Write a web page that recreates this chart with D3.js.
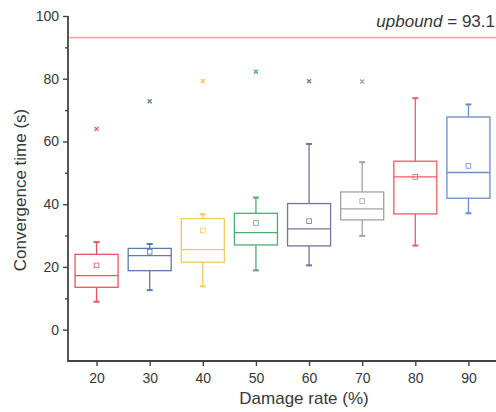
<!DOCTYPE html>
<html>
<head>
<meta charset="utf-8">
<script src="https://cdn.jsdelivr.net/npm/d3@7"></script>
<style>
  body { margin: 0; background: #fff; }
  svg { display: block; }
  text { font-family: "Liberation Sans", Arial, sans-serif; fill: #383838; }
</style>
</head>
<body>
<div class="container"></div>
<script>
// data
const categories = ['20', '30', '40', '50', '60', '70', '80', '90']
const whiskerLow = [8.9, 12.6, 13.8, 18.9, 20.5, 29.9, 26.8, 37.1]
const q1 = [13.5, 18.8, 21.5, 27.0, 26.7, 35.0, 36.9, 41.9]
const median = [17.2, 23.6, 25.5, 30.9, 32.1, 38.5, 48.7, 50.1]
const q3 = [24.0, 25.9, 35.4, 37.1, 40.2, 43.9, 53.7, 67.8]
const whiskerHigh = [27.9, 27.3, 36.8, 42.1, 59.2, 53.4, 73.8, 71.8]
const means = [20.5, 24.8, 31.6, 34.0, 34.6, 41.0, 48.7, 52.2]
const outliers = [64.0, 72.8, 79.3, 82.2, 79.2, 79.1, null, null]
const colors = ['#e9545e', '#5a7bb0', '#f3ca55', '#4cae75', '#75739f', '#a2a2a2', '#ef5a64', '#6a8ecb']
const upbound = 93.1
const yTicks = [0, 20, 40, 60, 80, 100]
const yMinor = [10, 30, 50, 70, 90]

const w = 496
const h = 412
const pad = {left: 68, right: 496, top: 16, bottom: 361}

const svg = d3.select('.container')
              .append('svg')
              .attr('width', w)
              .attr('height', h)

const xScale = d3.scalePoint()
                 .domain(categories)
                 .range([70, 495])
                 .padding(0.5)
const yScale = d3.scaleLinear()
                 .domain([-10, 100])
                 .range([pad.bottom, pad.top])

const boxW = xScale.step() * 0.81

// 上限线
svg.append('line')
   .attr('x1', pad.left + 1).attr('x2', pad.right)
   .attr('y1', yScale(upbound)).attr('y2', yScale(upbound))
   .attr('stroke', '#f5aaad')
   .attr('stroke-width', 1.6)

const ub = svg.append('text')
              .attr('x', 495)
              .attr('y', 27)
              .attr('text-anchor', 'end')
              .style('font-size', '17px')
ub.append('tspan').style('font-style', 'italic').text('upbound')
ub.append('tspan').text(' = ' + upbound)

// 箱线图
const rows = categories.map((c, i) => ({
  c: c, lo: whiskerLow[i], q1: q1[i], med: median[i], q3: q3[i],
  hi: whiskerHigh[i], mean: means[i], out: outliers[i], color: colors[i]
}))

const g = svg.append('g').selectAll('g')
             .data(rows)
             .enter()
             .append('g')
             .attr('stroke', (d) => d.color)
             .attr('fill', 'none')
             .attr('stroke-width', 1.3)

// whiskers
g.append('line')
 .attr('x1', (d) => xScale(d.c)).attr('x2', (d) => xScale(d.c))
 .attr('y1', (d) => yScale(d.hi)).attr('y2', (d) => yScale(d.q3))
g.append('line')
 .attr('x1', (d) => xScale(d.c)).attr('x2', (d) => xScale(d.c))
 .attr('y1', (d) => yScale(d.q1)).attr('y2', (d) => yScale(d.lo))
g.append('line')
 .attr('x1', (d) => xScale(d.c) - 3).attr('x2', (d) => xScale(d.c) + 3)
 .attr('y1', (d) => yScale(d.hi)).attr('y2', (d) => yScale(d.hi))
 .attr('stroke-width', 2)
g.append('line')
 .attr('x1', (d) => xScale(d.c) - 3).attr('x2', (d) => xScale(d.c) + 3)
 .attr('y1', (d) => yScale(d.lo)).attr('y2', (d) => yScale(d.lo))
 .attr('stroke-width', 2)

// box
g.append('rect')
 .attr('x', (d) => xScale(d.c) - boxW / 2)
 .attr('width', boxW)
 .attr('y', (d) => yScale(d.q3))
 .attr('height', (d) => yScale(d.q1) - yScale(d.q3))
 .attr('fill', '#fff')
g.append('line')
 .attr('x1', (d) => xScale(d.c) - boxW / 2).attr('x2', (d) => xScale(d.c) + boxW / 2)
 .attr('y1', (d) => yScale(d.med)).attr('y2', (d) => yScale(d.med))

// mean
g.append('rect')
 .attr('x', (d) => xScale(d.c) - 2.3)
 .attr('y', (d) => yScale(d.mean) - 2.3)
 .attr('width', 4.6).attr('height', 4.6)
 .attr('stroke-width', 0.8)

// outliers
g.filter((d) => d.out != null)
 .append('path')
 .attr('d', (d) => {
   const x = xScale(d.c), y = yScale(d.out)
   return 'M' + (x - 2) + ',' + (y - 2) + 'L' + (x + 2) + ',' + (y + 2) +
          'M' + (x - 2) + ',' + (y + 2) + 'L' + (x + 2) + ',' + (y - 2)
 })
 .attr('stroke-width', 1.3)

// 坐标轴
const yAxis = d3.axisLeft(yScale).tickValues(yTicks).tickSize(5).tickPadding(4)
const yAxisG = svg.append('g')
   .attr('class', 'y-axis')
   .attr('transform', 'translate(' + pad.left + ',0)')
   .call(yAxis)
yAxisG.selectAll('text').style('font-size', '14px').style('fill', '#383838')
yAxisG.select('.domain').remove()

svg.append('g')
   .attr('transform', 'translate(' + pad.left + ',0)')
   .call(d3.axisLeft(yScale).tickValues(yMinor).tickSize(3).tickFormat(''))
   .select('.domain').remove()

const xAxis = d3.axisBottom(xScale).tickSize(5).tickPadding(7)
const xAxisG = svg.append('g')
   .attr('class', 'x-axis')
   .attr('transform', 'translate(0,' + pad.bottom + ')')
   .call(xAxis)
xAxisG.selectAll('text').style('font-size', '14px').style('fill', '#383838')
xAxisG.select('.domain').remove()

svg.selectAll('.tick line').attr('stroke', '#444').attr('stroke-width', 1.4)

// frame lines
svg.append('path')
   .attr('d', 'M' + pad.left + ',' + pad.top + 'V' + pad.bottom + 'H' + pad.right)
   .attr('fill', 'none')
   .attr('stroke', '#444')
   .attr('stroke-width', 1.8)

// 标题
svg.append('text')
   .attr('x', 304)
   .attr('y', 404)
   .attr('text-anchor', 'middle')
   .style('font-size', '17px')
   .text('Damage rate (%)')

svg.append('text')
   .attr('transform', 'translate(26,' + 190 + ') rotate(-90)')
   .attr('text-anchor', 'middle')
   .style('font-size', '17px')
   .text('Convergence time (s)')
</script>
</body>
</html>
